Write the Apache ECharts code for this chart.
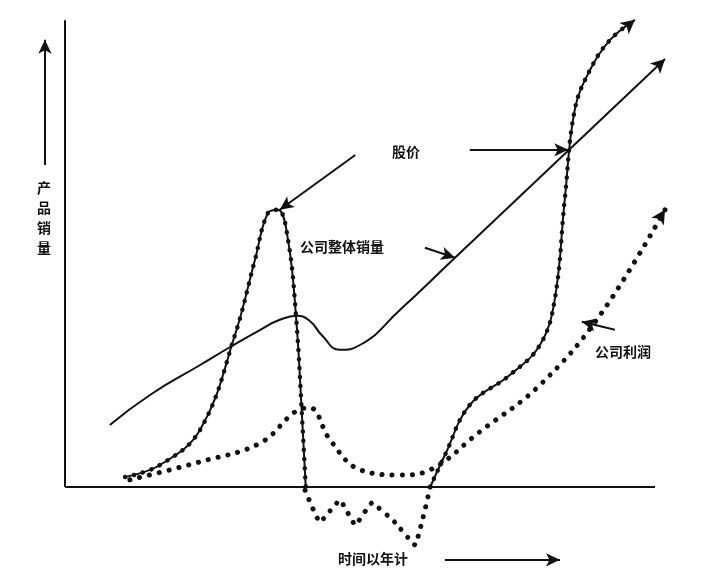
<!DOCTYPE html>
<html>
<head>
<meta charset="utf-8">
<script src="https://cdn.jsdelivr.net/npm/echarts@6/dist/echarts.min.js"></script>
<style>html,body{margin:0;background:#fff}#main{width:720px;height:583px}</style>
</head>
<body>
<div id="main"></div>
<script>
// schematic values, x: time units, y: level
var salesData = [[7.6,15.5],[14.4,23],[22.9,30.5],[28,35],[33.1,39.3],[36.4,41.8],[39.3,42.8],[41.5,41.5],[43.5,38],[46.6,34.3],[50,35.5],[56.8,44.3],[66.1,57.3],[101.7,107]];
var stockData = [[10.2,2.5],[16.1,5.5],[22.9,14.3],[28.8,38],[32.2,56.8],[34.4,68.5],[36.1,69.3],[37.8,61.8],[39.2,41.8],[40.2,16.8],[40.8,0]];
var stockData2 = [[61.9,0],[64.4,8],[68.6,20.5],[75.4,28],[80.5,35.5],[83,46.8],[84.7,71.8],[86.4,94.3],[89,104.3],[92.4,111.8],[96.6,116.8]];
var profitData = [[11,1.8],[22.9,6.3],[33.1,11],[39,18.8],[41.5,19.8],[44.9,11.8],[50,4.3],[56.8,3],[61.9,4.3],[70.3,13.8],[80.5,25.5],[90.7,43],[101.7,69.3]];
var lossData = [[40.7,-0.8],[43.2,-8.8],[46.6,-3.3],[49.2,-9.5],[52,-4],[55.9,-8.8],[59.3,-14.5],[61.9,0]];
var axisX = [[0,0],[100,0]];
var axisY = [[0,0],[0,116.7]];

function withArrow(arr, rot) {
    var out = arr.slice(0, -1);
    out.push({value: arr[arr.length-1], symbol: 'arrow', symbolSize: [11,14], symbolRotate: rot});
    return out;
}

var myChart = echarts.init(document.getElementById('main'));
var ink = '#111';
var dotted = {color: ink, width: 5, type: [0.1, 10], cap: 'round'};
var beads = {color: ink, width: 4.5, type: [0.1, 9], cap: 'round'};
var txt = {fontFamily: 'Noto Sans CJK SC', fontWeight: 'bold', fontSize: 14, fill: ink};

var option = {
    backgroundColor: '#fff',
    animation: false,
    grid: {left: 35.5, right: 35.5, top: 7, bottom: 16},
    xAxis: {type: 'value', min: -5, max: 105, show: false},
    yAxis: {type: 'value', min: -20, max: 120, show: false},
    series: [
        {type: 'line', data: axisX, showSymbol: false, silent: true, lineStyle: {color: ink, width: 2}},
        {type: 'line', data: axisY, showSymbol: false, silent: true, lineStyle: {color: ink, width: 2}},
        {type: 'line', data: withArrow(salesData, -46), smooth: 0.5, symbol: 'none', lineStyle: {color: ink, width: 2},
         itemStyle: {color: ink}, clip: false},
        {type: 'line', data: stockData, smooth: 0.4, symbol: 'none', lineStyle: {color: ink, width: 2}, clip: false},
        {type: 'line', data: stockData, smooth: 0.4, symbol: 'none', lineStyle: beads, clip: false},
        {type: 'line', data: withArrow(stockData2, -51), smooth: 0.4, symbol: 'none', lineStyle: {color: ink, width: 2},
         itemStyle: {color: ink}, clip: false},
        {type: 'line', data: stockData2, smooth: 0.4, symbol: 'none', lineStyle: beads, clip: false},
        {type: 'line', data: withArrow(profitData, -32), smooth: 0.4, symbol: 'none', lineStyle: dotted,
         itemStyle: {color: ink}, clip: false},
        {type: 'line', data: lossData, smooth: 0.1, symbol: 'none', lineStyle: dotted, clip: false},
        {type: 'line', data: [], clip: false,
         markLine: {
             silent: true, symbol: ['none', 'arrow'], symbolSize: [10, 14],
             label: {show: false},
             lineStyle: {color: ink, width: 2, type: 'solid'},
             data: [
                 [{coord: [49.2, 83]}, {coord: [36.4, 69.3]}],
                 [{coord: [68.6, 84.3]}, {coord: [85.3, 84.3]}],
                 [{coord: [61, 59.8]}, {coord: [66.1, 57.3]}],
                 [{coord: [93.2, 39.3]}, {coord: [87.6, 41.3]}],
                 [{coord: [-3.4, 80.5]}, {coord: [-3.4, 111.8]}],
                 [{coord: [64.4, -18.2]}, {coord: [83.9, -18.2]}]
             ]
         }}
    ],
    graphic: [
        {type: 'text', left: 37, top: 178, style: Object.assign({text: '产\n品\n销\n量', lineHeight: 20}, txt)},
        {type: 'text', left: 392, top: 145, style: Object.assign({text: '股价'}, txt)},
        {type: 'text', left: 300, top: 240, style: Object.assign({text: '公司整体销量'}, txt)},
        {type: 'text', left: 595, top: 345, style: Object.assign({text: '公司利润'}, txt)},
        {type: 'text', left: 338, top: 552, style: Object.assign({text: '时间以年计'}, txt)}
    ]
};
myChart.setOption(option);
</script>
</body>
</html>
